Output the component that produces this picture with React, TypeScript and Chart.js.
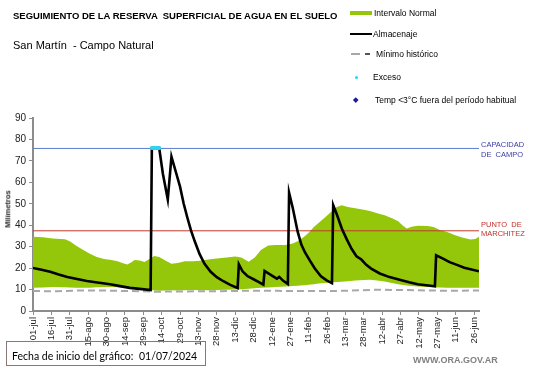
import React, { useEffect, useRef } from 'react';
import { Chart, registerables } from 'chart.js';

Chart.register(...registerables);

// ---- Data ----
const xTickLabels = ['01-jul', '16-jul', '31-jul', '15-ago', '30-ago', '14-sep', '29-sep', '14-oct', '29-oct', '13-nov', '28-nov', '13-dic', '28-dic', '12-ene', '27-ene', '11-feb', '26-feb', '13-mar', '28-mar', '12-abr', '27-abr', '12-may', '27-may', '11-jun', '26-jun'];
const tickStepDays = 15;
const lastDay = 364;
const yTicks = [0, 10, 20, 30, 40, 50, 60, 70, 80, 90];

const bandDays = [0, 8, 16, 26, 30, 35, 40, 46, 52, 58, 64, 69, 74, 77, 80, 83, 87, 91, 95, 99, 103, 108, 113, 118, 124, 131, 136, 143, 150, 158, 165, 170, 176, 181, 186, 192, 198, 206, 212, 216, 221, 225, 229, 233, 238, 243, 248, 252, 257, 263, 270, 275, 281, 287, 293, 298, 302, 305, 309, 314, 322, 327, 332, 338, 344, 351, 357, 361, 364];
const bandUpper = [34.6, 34.4, 33.8, 33.5, 32.5, 30.5, 28.8, 26.8, 25.2, 24.3, 23.8, 23.2, 22.2, 21.7, 22.6, 23.8, 23.6, 22.9, 24.2, 25.7, 25.2, 23.5, 22, 22.4, 23.2, 23.2, 23.4, 24, 24.5, 25, 25.4, 25, 23, 25, 28.4, 30.5, 30.8, 30.8, 31.5, 32.5, 34.5, 36.5, 39, 41, 43.5, 46, 48.5, 49.3, 48.5, 47.9, 47.2, 46.6, 45.6, 44.6, 43.2, 41.8, 39.8, 38.5, 39.3, 39.7, 39.6, 39.2, 37.8, 36.8, 35.4, 34.2, 33.4, 33.6, 34.6];
const bandLower = [10.9, 11, 11.2, 11.1, 11, 10.9, 10.8, 10.9, 11.1, 11.2, 11.2, 11.1, 11, 10.8, 10.6, 10.5, 10.3, 10.2, 10, 9.6, 9.5, 9.6, 9.7, 9.6, 9.7, 9.8, 9.7, 9.7, 9.8, 9.9, 10, 10.2, 10.4, 10.6, 10.8, 11, 11.2, 11.4, 11.6, 11.8, 12, 12.2, 12.5, 12.8, 13.1, 13.3, 13.5, 13.6, 13.9, 14.2, 14.5, 14.6, 14.2, 13.7, 13, 12.5, 12.1, 11.9, 11.7, 11.4, 11.2, 11.1, 11, 10.9, 10.9, 10.8, 10.8, 10.8, 10.8];

const almDays = [0, 7, 14, 21, 28, 36, 44, 54, 63, 71, 79, 87, 96, 97, 103, 106, 110, 113, 117, 120, 123, 126, 129, 132, 136, 140, 145, 150, 155, 161, 167, 168, 171, 175, 180, 184, 188, 189, 195, 199, 201, 204, 208, 209, 212, 216, 219, 222, 226, 230, 235, 240, 244, 245, 248, 252, 256, 260, 264, 268, 272, 276, 283, 291, 300, 307, 314, 321, 328, 329, 335, 340, 346, 352, 358, 364];
const almValues = [20.1, 19.2, 18.3, 17.0, 15.9, 14.9, 14.0, 13.2, 12.5, 11.6, 10.8, 10.3, 9.8, 76, 76, 64, 52, 72, 64, 58, 50, 43.5, 37.5, 32.5, 26.5, 22, 18.3, 15.8, 14, 12.2, 10.7, 21.8, 18.5, 16.3, 14.8, 13.6, 12.3, 18.7, 16.5, 15.1, 15.9, 14.2, 12.6, 55.2, 48, 37, 31, 27.3, 23.5, 19.8, 16.2, 14.2, 13.0, 49.4, 45, 38.5, 33.5, 29, 25.5, 24, 21.5, 19.8, 17.5, 15.8, 14.4, 13.4, 12.5, 12, 11.5, 26.0, 24.3, 22.8, 21.5, 20.2, 19.3, 18.5];

const minDays = [0, 20, 40, 60, 80, 100, 120, 140, 160, 180, 200, 220, 240, 260, 280, 300, 320, 340, 364];
const minValues = [9.3, 9.2, 9.6, 9.5, 9.3, 9.0, 9.1, 9.2, 9.3, 9.5, 9.4, 9.3, 9.3, 9.5, 9.9, 9.8, 9.6, 9.4, 9.6];

const excesoDays = [97, 98, 99, 100, 101, 102, 103];
const excesoValues = [76, 76, 76, 76, 76, 76, 76];

const capacidadCampo = 75.8;
const puntoMarchitez = 37.4;

const pts = (xs: number[], ys: number[]) => xs.map((x, i) => ({ x, y: ys[i] }));

const FONT = "'Liberation Sans', Arial, sans-serif";

function Txt(props: { x: number; y: number; size: number; bold?: boolean; color?: string; family?: string; children: React.ReactNode }) {
  return (
    <div
      style={{
        position: 'absolute',
        left: props.x,
        top: props.y,
        transform: 'translateY(-50%)',
        fontSize: props.size,
        lineHeight: 1,
        fontWeight: props.bold ? 'bold' : 'normal',
        color: props.color || '#000',
        fontFamily: props.family || FONT,
        whiteSpace: 'pre',
      }}
    >
      {props.children}
    </div>
  );
}

export default function App() {
  const ref = useRef<HTMLCanvasElement>(null);

  useEffect(() => {
    const chart = new Chart(ref.current as HTMLCanvasElement, {
      type: 'line',
      data: {
        datasets: [
          {
            label: 'Exceso',
            data: pts(excesoDays, excesoValues),
            showLine: false,
            pointRadius: 2,
            pointBackgroundColor: '#2fd3f0',
            pointBorderWidth: 0,
            borderColor: '#2fd3f0',
          },
          {
            label: 'Almacenaje',
            data: pts(almDays, almValues),
            borderColor: '#000000',
            borderWidth: 2.6,
            pointRadius: 0,
            tension: 0,
            fill: false,
          },
          {
            label: 'Capacidad de campo',
            data: [{ x: 0, y: capacidadCampo }, { x: lastDay, y: capacidadCampo }],
            borderColor: '#5b7fcf',
            borderWidth: 1,
            pointRadius: 0,
            fill: false,
          },
          {
            label: 'Punto de marchitez',
            data: [{ x: 0, y: puntoMarchitez }, { x: lastDay, y: puntoMarchitez }],
            borderColor: '#c0392b',
            borderWidth: 1,
            pointRadius: 0,
            fill: false,
          },
          {
            label: 'Mínimo histórico',
            data: pts(minDays, minValues),
            borderColor: '#a8a8a8',
            borderWidth: 2,
            borderDash: [7, 4],
            pointRadius: 0,
            fill: false,
          },
          {
            label: 'Intervalo Normal',
            data: pts(bandDays, bandUpper),
            borderWidth: 0,
            borderColor: 'rgba(0,0,0,0)',
            backgroundColor: '#94c60a',
            pointRadius: 0,
            fill: '+1',
          },
          {
            label: 'Intervalo Normal inferior',
            data: pts(bandDays, bandLower),
            borderWidth: 0,
            borderColor: 'rgba(0,0,0,0)',
            pointRadius: 0,
            fill: false,
          },
        ],
      },
      options: {
        animation: false,
        responsive: false,
        maintainAspectRatio: false,
        layout: { padding: { top: 118, right: 62, left: 0, bottom: 0 } },
        plugins: { legend: { display: false }, tooltip: { enabled: false } },
        scales: {
          x: {
            type: 'linear',
            min: 0,
            max: lastDay,
            afterFit: (s: any) => { s.height = 57; },
            afterBuildTicks: (s: any) => { s.ticks = xTickLabels.map((_, i) => ({ value: i * tickStepDays })); },
            border: { color: '#8c8c8c', width: 2 },
            grid: { drawOnChartArea: false, drawTicks: true, tickLength: 4, color: '#8c8c8c', lineWidth: 1 },
            ticks: {
              autoSkip: false,
              minRotation: 90,
              maxRotation: 90,
              padding: 2,
              color: '#222',
              font: { family: FONT, size: 9.5 },
              callback: (v: any) => xTickLabels[Math.round(Number(v) / tickStepDays)] ?? '',
            },
          },
          y: {
            min: 0,
            max: 90,
            afterFit: (s: any) => { s.width = 33; },
            afterBuildTicks: (s: any) => { s.ticks = yTicks.map((v) => ({ value: v })); },
            border: { color: '#8c8c8c', width: 2 },
            grid: { drawOnChartArea: false, drawTicks: true, tickLength: 4, color: '#8c8c8c', lineWidth: 1 },
            ticks: { padding: 3, color: '#222', font: { family: FONT, size: 10 } },
          },
        },
      } as any,
    });
    return () => chart.destroy();
  }, []);

  return (
    <div style={{ position: 'fixed', left: 0, top: 0, width: 541, height: 368, background: '#fff', overflow: 'hidden' }}>
      <canvas ref={ref} width={541} height={368} style={{ position: 'absolute', left: 0, top: 0, width: 541, height: 368 }} />

      <Txt x={13} y={16} size={9.5} bold>{'SEGUIMIENTO DE LA RESERVA  SUPERFICIAL DE AGUA EN EL SUELO'}</Txt>
      <Txt x={13} y={44.5} size={11}>{'San Martín  - Campo Natural'}</Txt>

      {/* Legend */}
      <div style={{ position: 'absolute', left: 350, top: 11, width: 22, height: 4, background: '#94c60a' }} />
      <Txt x={374} y={12.5} size={8.5}>Intervalo Normal</Txt>
      <div style={{ position: 'absolute', left: 350, top: 32.5, width: 22, height: 2, background: '#000' }} />
      <Txt x={373} y={34} size={8.5}>Almacenaje</Txt>
      <div style={{ position: 'absolute', left: 351, top: 53, width: 9, height: 1.5, background: '#a8a8a8' }} />
      <div style={{ position: 'absolute', left: 365, top: 53, width: 5, height: 1.5, background: '#555' }} />
      <Txt x={376} y={54} size={8.5}>Mínimo histórico</Txt>
      <div style={{ position: 'absolute', left: 354.5, top: 75.5, width: 3, height: 3, borderRadius: 2, background: '#2fd3f0' }} />
      <Txt x={373} y={77} size={8.5}>Exceso</Txt>
      <div style={{ position: 'absolute', left: 353.5, top: 97.5, width: 3.5, height: 3.5, background: '#1a1aa8', transform: 'rotate(45deg)' }} />
      <Txt x={375} y={99.5} size={8.5}>{'Temp <3°C fuera del período habitual'}</Txt>

      {/* Right labels */}
      <Txt x={481} y={145} size={7.5} color="#3a3aa8">CAPACIDAD</Txt>
      <Txt x={481} y={154.5} size={7.5} color="#3a3aa8">{'DE  CAMPO'}</Txt>
      <Txt x={481} y={224.5} size={7.5} color="#c0302a">{'PUNTO  DE'}</Txt>
      <Txt x={481} y={234} size={7.5} color="#c0302a">MARCHITEZ</Txt>

      {/* Y axis title */}
      <div
        style={{
          position: 'absolute',
          left: 7.5,
          top: 209,
          transform: 'translate(-50%, -50%) rotate(-90deg)',
          fontSize: 7.5,
          fontWeight: 'bold',
          fontFamily: FONT,
          color: '#222',
          whiteSpace: 'pre',
          lineHeight: 1,
        }}
      >
        Milímetros
      </div>

      {/* Footer */}
      <div
        style={{
          position: 'absolute',
          left: 6,
          top: 341,
          width: 198,
          height: 23,
          border: '1px solid #8b7777',
          boxSizing: 'content-box',
        }}
      />
      <Txt x={12} y={356} size={10.5} family="Lato, 'Noto Sans', sans-serif">{'Fecha de inicio del gráfico:'}</Txt>
      <Txt x={139} y={356} size={10.5} family="Lato, 'Noto Sans', sans-serif">{'01/07/2024'}</Txt>
      <Txt x={413} y={360} size={9} bold color="#808080">WWW.ORA.GOV.AR</Txt>
    </div>
  );
}
